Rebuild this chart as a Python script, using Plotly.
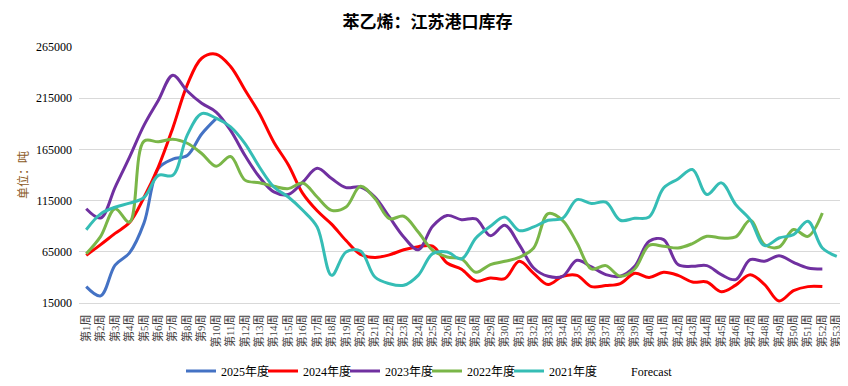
import plotly.graph_objects as go

weeks = [f"第{i}周" for i in range(1, 54)]

y_tick_vals = [15000, 65000, 115000, 165000, 215000, 265000]
y_tick_text = ["15000", "65000", "115000", "165000", "215000", "265000"]

s2025 = [31000, 22000, 52000, 64000, 93000, 146500, 155500, 159000, 180000, 195000]

s2024 = [61500, 72000, 83000, 93500, 118000, 148000, 186000, 228000, 254000, 258000,
         246000, 223000, 200000, 172000, 150000, 122000, 105000, 92000, 76000, 62500,
         59500, 62000, 67000, 70000, 70500, 54000, 48000, 36500, 39500, 38800,
         55700, 44000, 33000, 41000, 42000, 31000, 32000, 34000, 44000, 40000,
         45000, 42000, 35500, 35500, 26000, 32500, 42500, 33000, 17000, 27000,
         31000, 31000]

s2023 = [107000, 98000, 128000, 157500, 188500, 213000, 237500, 222000, 210000, 201500,
         183500, 159000, 138000, 123500, 121000, 133000, 146500, 136500, 127700, 128300,
         118500, 99000, 79500, 67000, 90000, 100500, 96400, 97100, 80800, 90900,
         72000, 49200, 41100, 41100, 56700, 50200, 42700, 41100, 50800, 75300,
         76900, 52500, 50800, 51500, 42700, 37800, 57300, 55700, 61200, 54700,
         49200, 48200]

s2022 = [63000, 80000, 107000, 94000, 173000, 172500, 175000, 171000, 161000, 148500,
         158000, 135000, 132500, 129000, 126700, 132200, 118500, 105500, 108800, 129000,
         117000, 97400, 99700, 84300, 66500, 59900, 58000, 45000, 52500, 55700,
         59600, 68700, 102300, 95800, 73600, 48200, 51500, 41100, 48200, 71300,
         70400, 68700, 73000, 80100, 78500, 79500, 95800, 72000, 69700, 86700,
         80100, 102900]

s2021 = [86500, 102000, 108500, 112500, 118000, 139700, 139700, 179000, 200000, 195500,
         187000, 170700, 147800, 128300, 118500, 105500, 89200, 42000, 64800, 65800,
         40400, 33900, 32300, 42000, 63200, 64800, 58000, 78500, 89900, 99000,
         85700, 89300, 95800, 97700, 116000, 112100, 113400, 95800, 97700, 99000,
         127300, 136200, 145300, 120900, 132300, 111100, 96400, 71000, 78500, 81800,
         94800, 68700, 60600]

series = [
    ("2025年度", s2025, "#4472C4"),
    ("2024年度", s2024, "#FF0000"),
    ("2023年度", s2023, "#7030A0"),
    ("2022年度", s2022, "#7AB648"),
    ("2021年度", s2021, "#35BDB5"),
]

SERIF = "Liberation Serif, Noto Sans CJK SC, serif"

# page body has an 8px default margin; figure is sized/placed to compensate
W, H = 840, 378

fig = go.Figure()
for name, vals, color in series:
    fig.add_trace(go.Scatter(
        x=weeks[:len(vals)], y=vals, name=name, mode="lines",
        line=dict(color=color, width=3, shape="spline", smoothing=1.0),
    ))
fig.add_trace(go.Scatter(
    x=weeks[:1], y=[None], name="Forecast", mode="lines",
    line=dict(color="rgba(0,0,0,0)", width=3),
))

fig.update_layout(
    width=W, height=H,
    margin=dict(l=71, r=4, t=39, b=83, autoexpand=False),
    paper_bgcolor="white", plot_bgcolor="white",
    title=dict(text="<b>苯乙烯：江苏港口库存</b>", x=419.5 / W, xref="container",
               y=1 - 14 / H, yref="container", yanchor="middle", xanchor="center",
               font=dict(family="Noto Sans CJK SC", size=17, color="#000000")),
    showlegend=True,
    legend=dict(orientation="h", xref="container", yref="container",
                x=419 / W, xanchor="center", y=15 / H, yanchor="middle",
                font=dict(family=SERIF, size=12, color="#000000"),
                entrywidth=37, entrywidthmode="pixels", traceorder="normal"),
    xaxis=dict(type="category", categoryorder="array", categoryarray=weeks,
               range=[-0.5, 52.5], showgrid=False, zeroline=False, automargin=False,
               showline=True, linecolor="#D9D9D9", linewidth=1,
               ticks="", tickangle=-90, ticklabelstandoff=6,
               tickfont=dict(family=SERIF, size=11, color="#404040")),
    yaxis=dict(range=[15000, 265000], tickmode="array", tickvals=y_tick_vals,
               ticktext=y_tick_text, showgrid=True, gridcolor="#D9D9D9", gridwidth=1,
               zeroline=False, showline=False, ticks="", ticklabelstandoff=6,
               automargin=False,
               tickfont=dict(family=SERIF, size=12, color="#000000")),
    annotations=[dict(text="单位：吨", xref="paper", yref="paper",
                      x=(14 - 71) / 765, y=0.5, xanchor="center", yanchor="middle",
                      textangle=-90, showarrow=False,
                      font=dict(family="Noto Sans CJK SC", size=12, color="#8C5A1E"))],
)

fig.write_html("out.html")
